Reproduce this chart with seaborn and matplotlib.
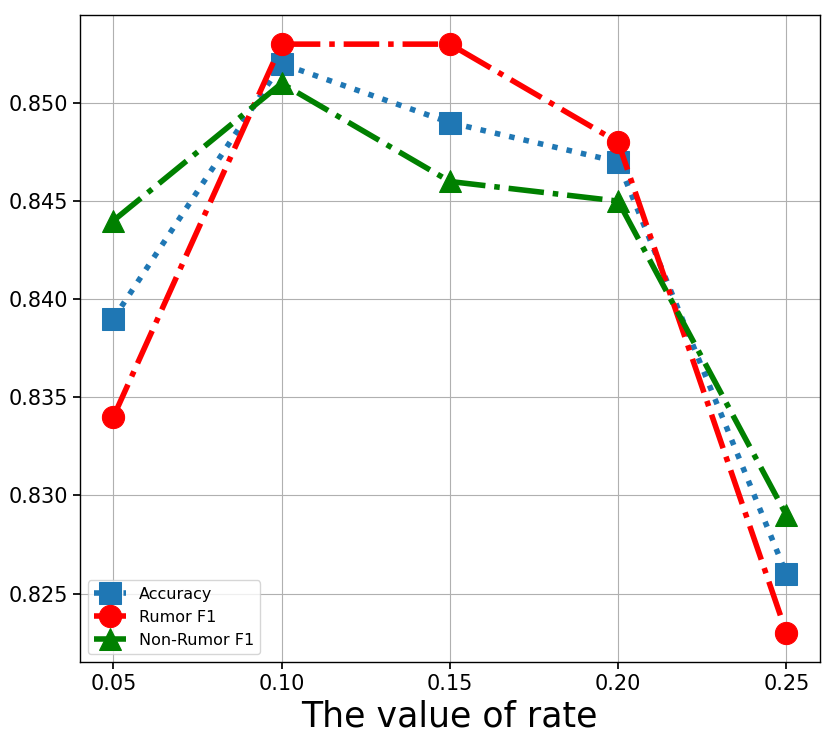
import matplotlib
matplotlib.use("Agg")
import matplotlib.pyplot as plt
import seaborn as sns
import pandas as pd

rates = [0.05, 0.10, 0.15, 0.20, 0.25]
tick_labels = ["0.05", "0.10", "0.15", "0.20", "0.25"]
accuracy = [0.839, 0.852, 0.849, 0.847, 0.826]
rumor_f1 = [0.834, 0.853, 0.853, 0.848, 0.823]
nonrumor_f1 = [0.844, 0.851, 0.846, 0.845, 0.829]

sns.set_theme(style="ticks")
plt.rcParams['font.family'] = ['DejaVu Sans']
plt.rcParams['text.color'] = 'black'
plt.rcParams['axes.labelcolor'] = 'black'
plt.rcParams['xtick.color'] = 'black'
plt.rcParams['ytick.color'] = 'black'

fig = plt.figure(figsize=(8.3, 7.35), dpi=100)
ax = fig.add_axes([0.096, 0.099, 0.892, 0.881])

series = [
    ("Accuracy", accuracy, "#1f77b4", "s", ":"),
    ("Rumor F1", rumor_f1, "red", "o", "-."),
    ("Non-Rumor F1", nonrumor_f1, "green", "^", "-."),
]
for name, vals, color, marker, ls in series:
    df = pd.DataFrame({"rate": rates, "value": vals})
    sns.lineplot(data=df, x="rate", y="value", ax=ax, color=color, marker=marker,
                 linestyle=ls, linewidth=4, markersize=16, markeredgecolor=color,
                 label=name)

ax.grid(True, color="#b0b0b0", linewidth=0.8)
ax.set_xticks(rates)
ax.set_xticklabels(tick_labels)
ax.set_yticks([0.825, 0.830, 0.835, 0.840, 0.845, 0.850])
ax.set_yticklabels(["0.825", "0.830", "0.835", "0.840", "0.845", "0.850"])
ax.tick_params(labelsize=15, length=5, color="black", labelcolor="black")
for s in ax.spines.values():
    s.set_color("black")
    s.set_linewidth(1.0)
ax.set_xlabel("The value of rate", fontsize=25, color="black")
ax.set_ylabel("")
leg = ax.legend(loc="lower left", fontsize=11.5)
for t in leg.get_texts():
    t.set_color("black")

fig.savefig("out.png", dpi=100)
